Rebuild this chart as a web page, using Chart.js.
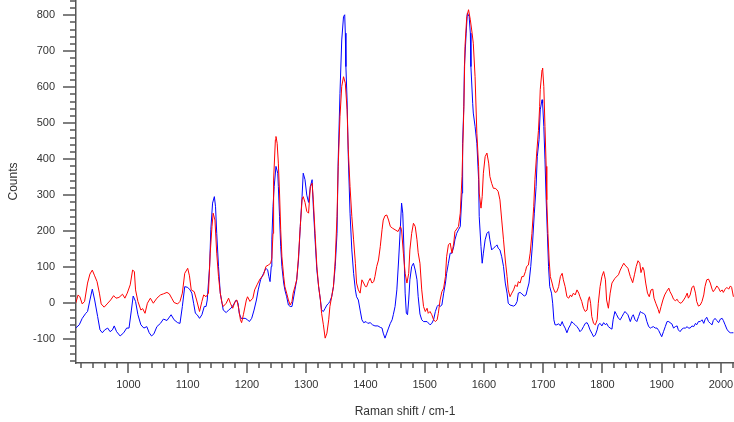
<!DOCTYPE html>
<html>
<head>
<meta charset="utf-8">
<title>Raman spectra</title>
<script src="https://cdn.jsdelivr.net/npm/chart.js@4.4.1/dist/chart.umd.min.js"></script>
<style>
  body { margin: 0; background: #fff; }
  #spectrum { display: block; }
</style>
</head>
<body>
<canvas id="spectrum" width="734" height="422"></canvas>
<script>
// red spectrum (shift in cm-1 / counts), 10 points per row
let redShift = [
  911, 915, 918, 922, 926, 931, 935, 939, 943, 947,
  951, 954, 959, 964, 970, 975, 979, 984, 990, 994,
  998, 1003, 1007, 1010, 1012, 1016, 1021, 1024, 1028, 1032,
  1037, 1042, 1048, 1054, 1059, 1065, 1069, 1073, 1077, 1083,
  1087, 1091, 1095, 1100, 1103, 1106, 1111, 1115, 1120, 1124,
  1127, 1131, 1135, 1138, 1141, 1143, 1146, 1149, 1152, 1155,
  1158, 1160, 1165, 1169, 1172, 1176, 1180, 1183, 1186, 1189,
  1191, 1194, 1199, 1201, 1205, 1210, 1213, 1217, 1222, 1228,
  1232, 1236, 1240, 1242, 1244, 1245, 1248, 1249, 1251, 1253,
  1255, 1257, 1259, 1262, 1264, 1267, 1270, 1273, 1276, 1278,
  1281, 1284, 1287, 1290, 1293, 1295, 1298, 1301, 1304, 1307,
  1310, 1312, 1315, 1318, 1321, 1324, 1326, 1329, 1332, 1335,
  1338, 1340, 1343, 1346, 1349, 1352, 1354, 1357, 1360, 1363,
  1366, 1369, 1371, 1374, 1377, 1380, 1383, 1385, 1388, 1391,
  1394, 1397, 1400, 1402, 1405, 1408, 1411, 1414, 1416, 1419,
  1422, 1425, 1428, 1430, 1433, 1436, 1439, 1442, 1446, 1450,
  1455, 1459, 1461, 1464, 1467, 1470, 1473, 1475, 1478, 1481,
  1484, 1487, 1489, 1492, 1495, 1498, 1501, 1504, 1506, 1509,
  1512, 1515, 1518, 1521, 1523, 1526, 1529, 1532, 1535, 1537,
  1540, 1543, 1546, 1549, 1551, 1554, 1557, 1560, 1563, 1566,
  1568, 1571, 1574, 1577, 1580, 1582, 1585, 1588, 1591, 1592,
  1595, 1597, 1599, 1602, 1605, 1608, 1610, 1613, 1616, 1619,
  1622, 1624, 1627, 1630, 1633, 1636, 1639, 1641, 1644, 1647,
  1650, 1653, 1656, 1658, 1661, 1664, 1667, 1670, 1672, 1675,
  1678, 1681, 1684, 1686, 1689, 1692, 1694, 1695, 1698, 1699,
  1701, 1703, 1705, 1706, 1708, 1710, 1712, 1715, 1717, 1720,
  1723, 1726, 1729, 1732, 1734, 1737, 1740, 1743, 1746, 1748,
  1751, 1754, 1757, 1760, 1762, 1765, 1768, 1771, 1774, 1776,
  1778, 1780, 1782, 1785, 1788, 1791, 1793, 1796, 1799, 1802,
  1805, 1807, 1810, 1813, 1816, 1821, 1827, 1830, 1833, 1836,
  1838, 1843, 1847, 1851, 1854, 1857, 1860, 1863, 1865, 1868,
  1870, 1873, 1876, 1879, 1882, 1885, 1887, 1890, 1894, 1896,
  1899, 1902, 1905, 1908, 1912, 1914, 1917, 1920, 1923, 1926,
  1928, 1931, 1934, 1937, 1940, 1943, 1945, 1948, 1951, 1954,
  1957, 1959, 1962, 1965, 1968, 1971, 1973, 1976, 1979, 1982,
  1985, 1987, 1990, 1993, 1996, 1999, 2002, 2004, 2007, 2010,
  2013, 2016, 2018, 2021
];
let redCounts = [
  0, 23, 18, -2, 5, 56, 81, 92, 76, 60,
  28, -2, -11, -2, 9, 21, 14, 16, 25, 14,
  28, 51, 92, 88, 37, 5, -19, -15, -28, 0,
  14, 0, 14, 23, 26, 30, 26, 14, 2, -2,
  5, 28, 83, 97, 76, 37, 32, 9, -23, 5,
  23, 18, 28, 139, 213, 250, 231, 139, 74, 28,
  0, -9, 0, 14, 0, -14, 5, 9, -14, -46,
  -54, -32, 9, 18, 5, 14, 37, 51, 67, 79,
  102, 106, 111, 125, 194, 342, 454, 463, 444, 389,
  306, 204, 129, 74, 46, 28, 9, -5, 5, 28,
  46, 65, 129, 213, 287, 296, 280, 255, 250, 324,
  333, 287, 194, 102, 46, 9, -28, -60, -97, -83,
  -46, -9, 18, 46, 120, 241, 380, 518, 602, 629,
  611, 537, 426, 324, 241, 176, 111, 56, 37, 28,
  65, 56, 46, 46, 60, 69, 56, 60, 74, 102,
  120, 157, 204, 231, 243, 245, 231, 213, 208, 204,
  199, 213, 204, 139, 83, 56, 83, 148, 194, 222,
  213, 176, 140, 111, 37, -9, -23, -14, -28, -23,
  -32, -46, -51, -46, -28, 9, 32, 42, 74, 129,
  162, 167, 139, 167, 199, 206, 213, 250, 352, 537,
  713, 796, 815, 787, 750, 722, 629, 472, 380, 306,
  264, 296, 361, 407, 417, 389, 352, 333, 319, 319,
  315, 310, 287, 231, 176, 120, 74, 37, 18, 28,
  37, 51, 46, 60, 56, 74, 74, 88, 102, 106,
  139, 194, 268, 343, 417, 480, 546, 593, 648, 653,
  602, 491, 380, 287, 194, 120, 74, 56, 42, 30,
  32, 46, 74, 83, 65, 46, 18, 14, 23, 18,
  28, 23, 37, 28, 18, 5, -14, -23, -19, 9,
  18, 0, -37, -56, -60, -46, 0, 46, 74, 88,
  65, 9, -14, 28, 56, 69, 79, 92, 102, 111,
  106, 97, 74, 57, 79, 102, 118, 111, 85, 100,
  92, 56, 28, 18, 37, 39, 14, 0, -17, -28,
  -9, 9, 23, 32, 42, 32, 23, 11, 7, 11,
  5, 0, 2, 9, 17, 28, 14, 23, 44, 48,
  28, 5, -8, -5, 5, 23, 46, 65, 67, 56,
  39, 32, 39, 48, 42, 32, 37, 30, 39, 44,
  39, 48, 44, 18
];

// blue spectrum
let blueShift = [
  911, 917, 922, 928, 931, 935, 939, 943, 948, 952,
  956, 960, 965, 969, 973, 976, 980, 986, 992, 997,
  1001, 1005, 1008, 1012, 1016, 1021, 1026, 1031, 1035, 1039,
  1043, 1048, 1054, 1059, 1065, 1072, 1077, 1083, 1087, 1091,
  1095, 1100, 1104, 1107, 1110, 1113, 1116, 1120, 1124, 1128,
  1131, 1133, 1137, 1139, 1142, 1145, 1147, 1149, 1152, 1155,
  1158, 1160, 1165, 1169, 1173, 1177, 1182, 1185, 1187, 1190,
  1193, 1197, 1201, 1204, 1208, 1212, 1216, 1219, 1223, 1228,
  1232, 1235, 1237, 1239, 1241, 1242, 1244, 1246, 1249, 1252,
  1253, 1255, 1257, 1259, 1262, 1264, 1267, 1270, 1273, 1276,
  1278, 1281, 1284, 1287, 1290, 1293, 1295, 1298, 1301, 1304,
  1307, 1310, 1312, 1315, 1318, 1321, 1324, 1326, 1329, 1332,
  1335, 1338, 1340, 1343, 1346, 1349, 1352, 1354, 1357, 1360,
  1363, 1365, 1366, 1367, 1369, 1371, 1374, 1377, 1380, 1383,
  1385, 1388, 1391, 1394, 1397, 1401, 1404, 1408, 1412, 1416,
  1421, 1425, 1428, 1430, 1433, 1436, 1439, 1442, 1445, 1447,
  1450, 1453, 1456, 1459, 1461, 1463, 1465, 1467, 1469, 1471,
  1473, 1475, 1478, 1481, 1484, 1487, 1489, 1492, 1495, 1498,
  1504, 1509, 1512, 1515, 1518, 1521, 1523, 1526, 1529, 1532,
  1535, 1537, 1540, 1543, 1546, 1549, 1551, 1554, 1557, 1560,
  1563, 1564, 1566, 1567, 1570, 1572, 1575, 1577, 1578, 1581,
  1582, 1585, 1588, 1591, 1592, 1595, 1597, 1599, 1602, 1605,
  1608, 1610, 1613, 1616, 1619, 1622, 1624, 1627, 1630, 1633,
  1636, 1639, 1641, 1644, 1650, 1653, 1656, 1658, 1661, 1664,
  1668, 1671, 1673, 1676, 1679, 1682, 1685, 1688, 1690, 1693,
  1695, 1698, 1699, 1701, 1703, 1705, 1707, 1709, 1711, 1714,
  1716, 1718, 1720, 1723, 1726, 1729, 1732, 1734, 1737, 1740,
  1743, 1746, 1748, 1751, 1754, 1757, 1760, 1762, 1765, 1768,
  1771, 1774, 1776, 1779, 1782, 1785, 1788, 1791, 1793, 1796,
  1799, 1802, 1805, 1807, 1810, 1813, 1816, 1818, 1821, 1824,
  1827, 1830, 1833, 1836, 1838, 1843, 1847, 1850, 1852, 1855,
  1858, 1861, 1864, 1866, 1869, 1872, 1875, 1878, 1881, 1883,
  1886, 1889, 1892, 1895, 1897, 1900, 1903, 1906, 1909, 1912,
  1914, 1917, 1920, 1923, 1926, 1928, 1931, 1934, 1937, 1940,
  1943, 1945, 1948, 1951, 1954, 1957, 1959, 1962, 1965, 1968,
  1971, 1973, 1976, 1979, 1982, 1985, 1987, 1990, 1993, 1996,
  1999, 2002, 2004, 2007, 2010, 2013, 2016, 2018, 2021
];
let blueCounts = [
  -69, -60, -42, -28, -23, 9, 39, 9, -37, -74,
  -82, -74, -69, -79, -74, -63, -79, -91, -82, -69,
  -69, -19, 20, 5, -32, -60, -69, -65, -82, -91,
  -85, -65, -56, -44, -48, -32, -46, -54, -56, -9,
  46, 44, 37, 28, 0, -28, -32, -42, -32, -9,
  -9, 9, 102, 204, 278, 296, 268, 194, 102, 28,
  0, -19, -26, -19, -14, -5, 9, 0, -28, -42,
  -42, -42, -46, -51, -42, -19, 9, 37, 65, 83,
  97, 92, 74, 60, 102, 176, 268, 324, 380, 361,
  324, 241, 157, 102, 56, 37, 18, -5, -9, -9,
  9, 37, 65, 120, 213, 296, 361, 343, 300, 280,
  324, 343, 268, 176, 92, 46, 9, -19, -23, -14,
  -5, 0, 5, 18, 46, 102, 194, 398, 583, 731,
  796, 801, 750, 657, 564, 407, 250, 148, 83, 37,
  18, 9, -19, -46, -54, -51, -56, -54, -60, -63,
  -63, -67, -69, -83, -97, -83, -69, -56, -46, -32,
  -9, 37, 120, 213, 278, 250, 148, 28, -28, -32,
  9, 65, 102, 111, 92, 65, 18, -30, -46, -51,
  -51, -60, -56, -46, -23, -9, -5, -9, -5, 28,
  56, 83, 111, 139, 139, 157, 176, 194, 204, 213,
  306, 444, 546, 657, 750, 806, 796, 750, 657, 555,
  528, 491, 444, 343, 241, 157, 111, 139, 176, 194,
  199, 176, 148, 153, 157, 162, 153, 148, 129, 102,
  56, 28, 0, -5, -8, -5, 5, 28, 30, 26,
  20, 23, 37, 56, 102, 167, 250, 324, 407, 454,
  537, 565, 555, 491, 398, 287, 194, 102, 46, 28,
  0, -46, -60, -60, -57, -63, -51, -60, -69, -82,
  -69, -60, -51, -56, -60, -65, -72, -79, -74, -65,
  -56, -54, -60, -74, -83, -93, -88, -74, -60, -56,
  -63, -54, -60, -56, -65, -69, -72, -46, -23, -32,
  -42, -46, -37, -28, -23, -32, -51, -37, -32, -46,
  -51, -37, -23, -26, -28, -32, -51, -65, -69, -67,
  -65, -69, -69, -76, -83, -93, -79, -65, -51, -51,
  -54, -57, -69, -65, -63, -74, -79, -72, -69, -69,
  -65, -69, -69, -63, -65, -56, -60, -51, -51, -46,
  -56, -46, -39, -51, -56, -60, -48, -42, -48, -54,
  -44, -42, -48, -60, -72, -79, -82, -82, -82
];

let xLabels = [1000, 1100, 1200, 1300, 1400, 1500, 1600, 1700, 1800, 1900, 2000];
let yLabels = [-100, 0, 100, 200, 300, 400, 500, 600, 700, 800];

let toPoints = (xs, ys) => xs.map((x, i) => ({ x: x, y: ys[i] }));

// minor/major tick marks like the original plot
let axisTicks = {
    id: 'axisTicks',
    afterDraw(chart) {
        let ctx = chart.ctx;
        let a = chart.chartArea;
        let xs = chart.scales.x, ys = chart.scales.y;
        ctx.save();
        ctx.strokeStyle = '#555';
        ctx.lineWidth = 1.5;
        ctx.beginPath();
        for (let v = 920; v <= 2020; v += 20) {
            let px = Math.round(xs.getPixelForValue(v));
            let len = v % 100 === 0 ? 10 : 5;
            ctx.moveTo(px, a.bottom);
            ctx.lineTo(px, a.bottom + len);
        }
        for (let v = -160; v <= 840; v += 20) {
            let py = Math.round(ys.getPixelForValue(v));
            let len = v % 100 === 0 ? 13 : 6;
            ctx.moveTo(a.left, py);
            ctx.lineTo(a.left - len, py);
        }
        ctx.stroke();
        ctx.restore();
    }
};

Chart.defaults.font.family = '"Liberation Sans", Arial, sans-serif';

let spectrumChart = new Chart(document.getElementById('spectrum').getContext('2d'), {
    type: 'line',
    data: {
        datasets: [{
            label: 'red',
            data: toPoints(redShift, redCounts),
            borderColor: '#ff0000',
            borderWidth: 1
        }, {
            label: 'blue',
            data: toPoints(blueShift, blueCounts),
            borderColor: '#0000ff',
            borderWidth: 1
        }]
    },
    options: {
        responsive: false,
        animation: false,
        layout: { padding: 0 },
        elements: { point: { radius: 0 }, line: { tension: 0 } },
        plugins: { legend: { display: false }, tooltip: { enabled: false } },
        scales: {
            x: {
                type: 'linear',
                min: 911.5,
                max: 2022,
                afterBuildTicks: s => { s.ticks = xLabels.map(v => ({ value: v })); },
                afterFit: s => { s.height = 59; s.paddingLeft = 0; s.paddingRight = 0; },
                ticks: {
                    color: '#333', font: { size: 11 }, padding: 7, maxRotation: 0, autoSkip: false,
                    callback: v => String(v)
                },
                grid: { display: false },
                border: { display: true, color: '#555', width: 1.5 },
                title: {
                    display: true,
                    text: 'Raman shift / cm-1',
                    color: '#333',
                    font: { size: 12 },
                    padding: { top: 0, bottom: 3 }
                }
            },
            y: {
                min: -166,
                max: 842,
                afterBuildTicks: s => { s.ticks = yLabels.map(v => ({ value: v })); },
                afterFit: s => { s.width = 76; s.paddingTop = 0; s.paddingBottom = 0; },
                ticks: { color: '#333', font: { size: 11 }, padding: 13, callback: v => String(v) },
                grid: { display: false },
                border: { display: true, color: '#555', width: 1.5 },
                title: {
                    display: true,
                    text: 'Counts',
                    color: '#333',
                    font: { size: 12 },
                    padding: { top: 6, bottom: 0 }
                }
            }
        }
    },
    plugins: [axisTicks]
});
</script>
</body>
</html>
